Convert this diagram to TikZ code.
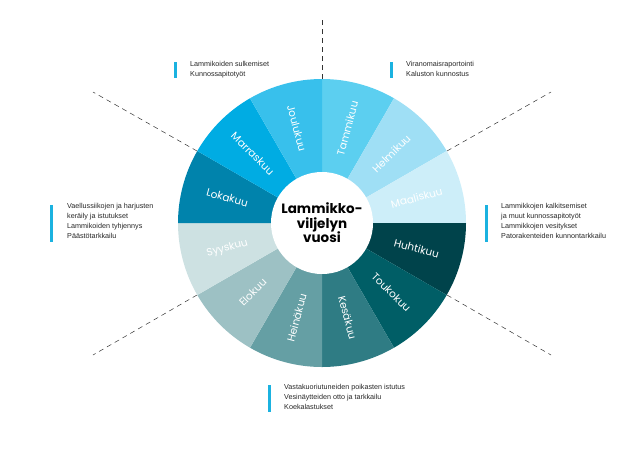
\documentclass[tikz,border=0pt]{standalone}
\usepackage{fontspec}
\setmainfont{Liberation Sans}
\newfontfamily\popp{Poppins}
\definecolor{c1}{HTML}{5CCFF0}
\definecolor{c2}{HTML}{9FDFF5}
\definecolor{c3}{HTML}{CDEEF9}
\definecolor{c4}{HTML}{00434B}
\definecolor{c5}{HTML}{005E66}
\definecolor{c6}{HTML}{2F7C84}
\definecolor{c7}{HTML}{659FA4}
\definecolor{c8}{HTML}{9DC1C4}
\definecolor{c9}{HTML}{CDE1E2}
\definecolor{c10}{HTML}{0083AC}
\definecolor{c11}{HTML}{00ACE3}
\definecolor{c12}{HTML}{38C0EC}
\definecolor{barc}{HTML}{1BB2E0}
\tikzset{
  month/.style={text=white,font=\popp\fontsize{10.5}{12}\selectfont},
  note/.style={anchor=north west,align=left,font=\fontsize{7.2}{10}\selectfont,text=black!85,inner sep=0pt},
  bar/.style={barc,line width=3pt},
  dashln/.style={dash pattern=on 5pt off 4pt,black!80,line width=0.5pt}
}
\begin{document}
\begin{tikzpicture}[x=1pt,y=-1pt]
\useasboundingbox (0,0) rectangle (643,475);
\coordinate (O) at (322,223);
\coordinate (pa1) at (322,79); \coordinate (pb1) at (322,20);
\coordinate (pa2) at (197,151); \coordinate (pb2) at (93,92);
\coordinate (pa3) at (447,151); \coordinate (pb3) at (551,92);
\coordinate (pa4) at (197,295); \coordinate (pb4) at (93,355);
\coordinate (pa5) at (447,295); \coordinate (pb5) at (551,355);
\foreach \k in {1,...,5}{\draw[dashln] (pa\k) -- (pb\k);}
\foreach \s/\c in {60/c1,30/c2,0/c3,-30/c4,-60/c5,-90/c6,-120/c7,-150/c8,-180/c9,150/c10,120/c11,90/c12}{
  \pgfmathsetmacro\e{\s+30}
  \fill[\c] (322,223) -- ++({cos(\s)*144},{-sin(\s)*144}) arc[start angle={-\s},end angle={-\e},radius=144] -- cycle;
}
\foreach \a/\n in {75/Tammikuu,45/Helmikuu,15/Maaliskuu,-15/Huhtikuu,-45/Toukokuu,-75/Kesäkuu,255/Heinäkuu,225/Elokuu,195/Syyskuu,165/Lokakuu,135/Marraskuu,105/Joulukuu}{
  \pgfmathsetmacro\r{ifthenelse(\a>90,\a-180,\a)}
  \node[month,rotate=\r] (m\n) at ({322+cos(\a)*98},{223-sin(\a)*98}) {\n};
}
\fill[white] (O) circle (51);
\node[align=center,font=\popp\bfseries\fontsize{13.5}{14.5}\selectfont] (title) at (O) {Lammikko-\\viljelyn\\vuosi};
\draw[bar] (175,62) -- (175,78);
\node[note] (n1) at (190,61) {Lammikoiden sulkemiset\\Kunnossapitotyöt};
\draw[bar] (391,62) -- (391,78);
\node[note] (n2) at (406,61) {Viranomaisraportointi\\Kaluston kunnostus};
\draw[bar] (51,205) -- (51,242);
\node[note] (n3) at (67,203.5) {Vaellussiikojen ja harjusten\\keräily ja istutukset\\Lammikoiden tyhjennys\\Päästötarkkailu};
\draw[bar] (486,205) -- (486,242);
\node[note] (n4) at (501,203.5) {Lammikkojen kalkitsemiset\\ja muut kunnossapitotyöt\\Lammikkojen vesitykset\\Patorakenteiden kunnontarkkailu};
\draw[bar] (269,385) -- (269,412);
\node[note] (n5) at (284,384) {Vastakuoriutuneiden poikasten istutus\\Vesinäytteiden otto ja tarkkailu\\Koekalastukset};
\end{tikzpicture}
\end{document}
